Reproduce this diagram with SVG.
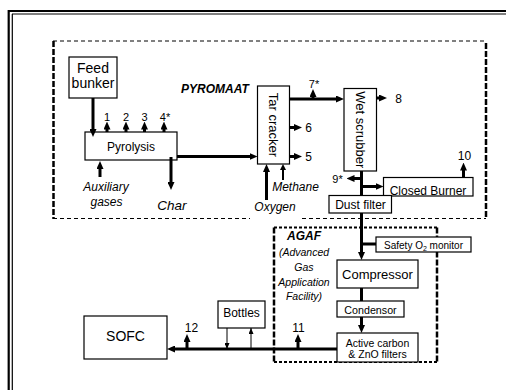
<svg xmlns="http://www.w3.org/2000/svg" width="506" height="390" viewBox="0 0 506 390">
<style>
text{font-family:"Liberation Sans",Arial,sans-serif;fill:#000}
.box{fill:#fff;stroke:#000;stroke-width:1.2}
.t12{font-size:12px;text-anchor:middle}
.t13{font-size:13px;text-anchor:middle}
.t14{font-size:14px;text-anchor:middle}
.num{font-size:11px;text-anchor:middle}
.it{font-style:italic;font-size:12px;text-anchor:middle}
.bi{font-style:italic;font-weight:bold;font-size:12px;text-anchor:middle}
.ag{font-style:italic;font-size:10.5px;text-anchor:middle}
.th{fill:none;stroke:#000;stroke-width:3}
.md{fill:none;stroke:#000;stroke-width:2}
.tn{fill:none;stroke:#000;stroke-width:1}
.ah{marker-end:url(#a)}
.ahm{marker-end:url(#b)}
.ahs{marker-end:url(#c)}
.dthin{fill:none;stroke:#000;stroke-width:1;stroke-dasharray:4 3}
.dthick{fill:none;stroke:#000;stroke-width:2.5;stroke-dasharray:6 2}
.ddot{fill:none;stroke:#000;stroke-width:2;stroke-dasharray:3 2}
</style>
<defs>
<marker id="a" viewBox="0 0 8 7" markerWidth="8" markerHeight="7" refX="2" refY="3.5" orient="auto" markerUnits="userSpaceOnUse"><path d="M0,0 L8,3.5 L0,7 z" fill="#000"/></marker>
<marker id="b" viewBox="0 0 6 6" markerWidth="6" markerHeight="6" refX="1" refY="3" orient="auto" markerUnits="userSpaceOnUse"><path d="M0,0 L6,3 L0,6 z" fill="#000"/></marker>
<marker id="c" viewBox="0 0 6 5" markerWidth="6" markerHeight="5" refX="6" refY="2.5" orient="auto" markerUnits="userSpaceOnUse"><path d="M0,0 L6,2.5 L0,5 z" fill="#000"/></marker>
</defs>
<rect width="506" height="390" fill="#fff"/>
<g id="frame">
<path d="M8.7,10 V390 M8,11 H506" fill="none" stroke="#000" stroke-width="2.2"/>
<path d="M12.3,14 V390 M12,14 H506" fill="none" stroke="#000" stroke-width="1.2"/>
</g>
<g id="pyromaat-area">
<path class="dthin" d="M53,41 H486 M53,218.5 H250 M302,218.5 H486"/>
<path class="dthick" d="M53.5,41 V219 M486,43 V219"/>
<text class="bi" x="215" y="92.5">PYROMAAT</text>
</g>
<g id="agaf-area">
<path class="ddot" d="M274,227.5 H437 M274,362 H437"/>
<path class="dthick" d="M274,227.5 V362 M437,227.5 V362"/>
<text class="bi" x="304" y="240">AGAF</text>
<text class="ag" x="304" y="256">(Advanced</text>
<text class="ag" x="304" y="271">Gas</text>
<text class="ag" x="304" y="286">Application</text>
<text class="ag" x="304" y="300">Facility)</text>
</g>
<g id="feed-bunker"><rect class="box" x="69" y="57" width="48" height="41"/><text class="t14" x="93" y="72.5">Feed</text><text class="t14" x="93" y="88.3">bunker</text></g>
<g id="pyrolysis"><rect class="box" x="85" y="132" width="92" height="28"/><text class="t12" x="131" y="150.5">Pyrolysis</text></g>
<g id="tar-cracker"><rect class="box" x="257.5" y="86" width="32" height="78"/><text class="t13" transform="translate(273.5,125) rotate(90)" y="4.5">Tar cracker</text></g>
<g id="wet-scrubber"><rect class="box" x="344" y="88.5" width="32.5" height="82.5"/><text class="t13" transform="translate(360.3,129.8) rotate(90)" y="4.5">Wet scrubber</text></g>
<g id="closed-burner"><rect class="box" x="383.5" y="177.5" width="89.5" height="18.5"/><text class="t12" x="428" y="194.5">Closed Burner</text></g>
<g id="dust-filter"><rect class="box" x="329" y="195.5" width="62.5" height="17.5"/><text class="t12" x="360.5" y="209">Dust filter</text></g>
<g id="safety-monitor"><rect class="box" x="376" y="237" width="95" height="15"/><text x="423.5" y="248.5" style="font-size:10px;text-anchor:middle">Safety O<tspan font-size="7" dy="2">2</tspan><tspan dy="-2"> monitor</tspan></text></g>
<g id="compressor"><rect class="box" x="337" y="260" width="81" height="28"/><text class="t13" x="377.5" y="279">Compressor</text></g>
<g id="condensor"><rect class="box" x="337" y="301" width="67" height="16"/><text x="370.5" y="313.5" style="font-size:10.7px;text-anchor:middle">Condensor</text></g>
<g id="active-carbon"><rect class="box" x="337" y="333" width="81" height="29"/><text x="377.5" y="346.5" style="font-size:10.5px;text-anchor:middle">Active carbon</text><text x="377.5" y="358" style="font-size:10.5px;text-anchor:middle">&amp; ZnO filters</text></g>
<g id="bottles"><rect class="box" x="218" y="301" width="47" height="27"/><text class="t12" x="241.5" y="316.5">Bottles</text></g>
<g id="sofc"><rect class="box" x="84" y="316" width="83" height="43"/><text class="t14" x="125.5" y="340.5">SOFC</text></g>
<g id="connectors">
<path class="th ah" d="M93,98 V131"/>
<path class="th ah" d="M107,132 V127.5"/>
<path class="th ah" d="M126,132 V127.5"/>
<path class="th ah" d="M144.5,132 V127.5"/>
<path class="th ah" d="M164,132 V127.5"/>
<path class="th ah" d="M100,177 V167"/>
<path class="th ah" d="M171,157 V184"/>
<path class="th ah" d="M177,156.5 H251.5"/>
<path class="th ah" d="M289.5,99 H338"/>
<path class="th ah" d="M313,99 V95"/>
<path class="th ah" d="M289.5,127.5 H296"/>
<path class="th ah" d="M289.5,156.5 H296"/>
<path class="th ah" d="M266.5,200 V170"/>
<path class="md ahm" d="M283,180 V169"/>
<path class="th ah" d="M376.5,98 H381"/>
<path class="th" d="M361.5,171 V195.5"/>
<path class="th ah" d="M361.5,178.5 H352.5"/>
<path class="th ah" d="M361.5,186.5 H377.5"/>
<path class="th ah" d="M463.5,177.5 V168.5"/>
<path class="th ah" d="M361.5,213 V254"/>
<path class="th" d="M361.5,244 H376"/>
<path class="th" d="M361.5,288 V301"/>
<path class="th ah" d="M361.5,317 V327"/>
<path class="th ah" d="M337,349 H173"/>
<path class="th ah" d="M187,349 V340"/>
<path class="th ah" d="M298,349 V340"/>
<path class="tn ahs" d="M227,328 V349"/>
<path class="tn ahs" d="M251,349 V328"/>
</g>
<g id="labels">
<text class="num" x="107" y="121">1</text>
<text class="num" x="126" y="121">2</text>
<text class="num" x="144.5" y="121">3</text>
<text class="num" x="165" y="121">4*</text>
<text class="num" x="314" y="87.5">7*</text>
<text class="t12" x="308.5" y="132">6</text>
<text class="t12" x="308.5" y="161">5</text>
<text class="t12" x="398.5" y="102.5">8</text>
<text class="num" x="337.5" y="182.5">9*</text>
<text class="t12" x="464.5" y="159.5">10</text>
<text class="t12" x="191.5" y="332">12</text>
<text class="t12" x="298.5" y="332">11</text>
<text class="it" x="106" y="191">Auxiliary</text>
<text class="it" x="106.5" y="205.5">gases</text>
<text class="it" x="172" y="210" style="font-size:13.5px">Char</text>
<text class="it" x="295.5" y="190.5">Methane</text>
<text class="it" x="275" y="211">Oxygen</text>
</g>
</svg>
